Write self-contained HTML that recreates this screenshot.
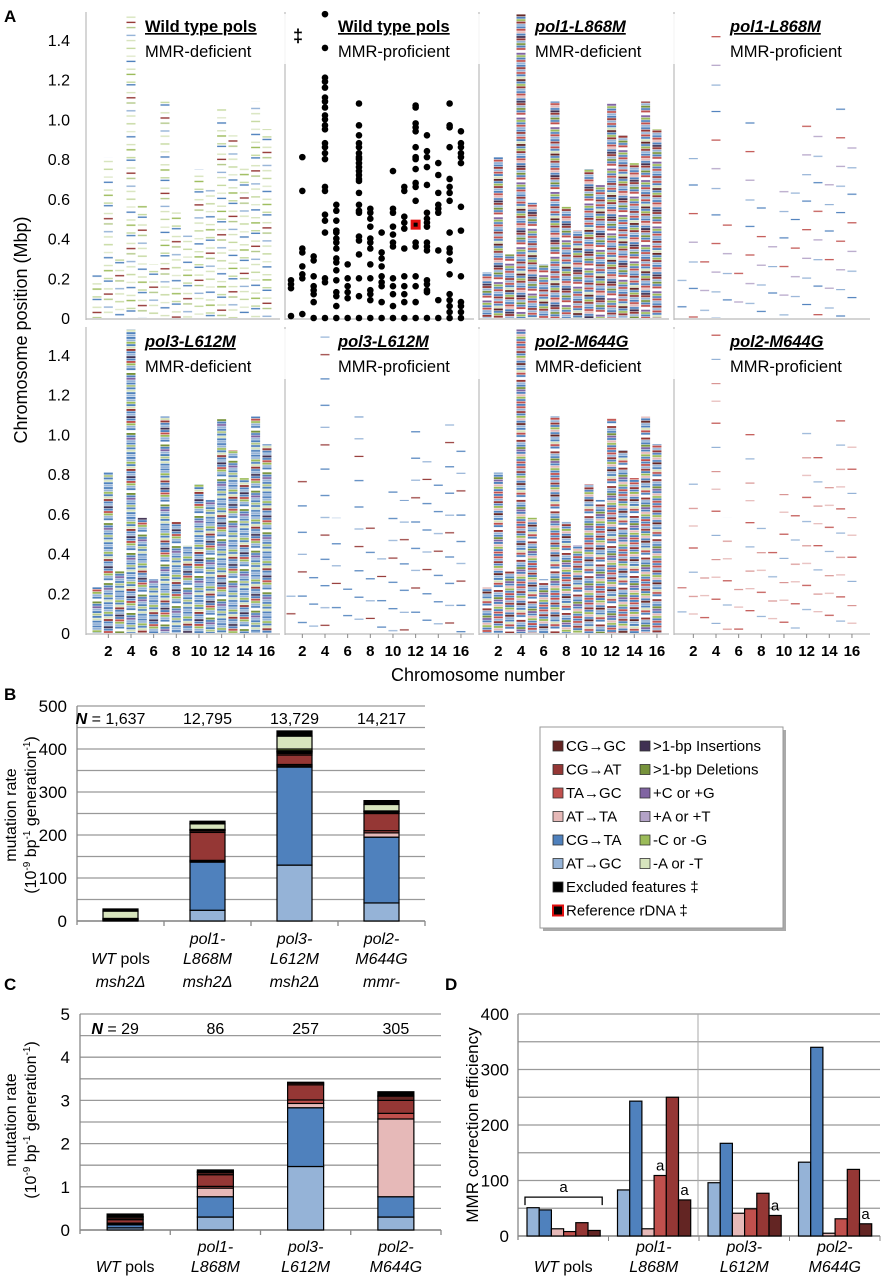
<!DOCTYPE html>
<html><head><meta charset="utf-8">
<style>
html,body{margin:0;padding:0;background:#fff;}
svg{display:block;font-family:"Liberation Sans",sans-serif;}
</style></head>
<body>
<svg id="fig" width="881" height="1280" viewBox="0 0 881 1280" xmlns="http://www.w3.org/2000/svg">
<defs id="defs"></defs>
<g id="panelA"></g>
<g id="panelB"></g>
<g id="panelC"></g>
<g id="panelD"></g>
<g id="legend"></g>
</svg>
<script>
// ---------- data ----------
const chromosomes = [1,2,3,4,5,6,7,8,9,10,11,12,13,14,15,16];
const chrLen = [0.23,0.81,0.32,1.53,0.58,0.27,1.09,0.56,0.44,0.75,0.67,1.08,0.92,0.78,1.09,0.95];
const wtProfDots = [
 [0.19,0.17,0.15,0.01],
 [0.81,0.64,0.35,0.33,0.26,0.22,0.20,0.02],
 [0.31,0.29,0.21,0.16,0.14,0.12,0.08,0.0],
 [1.53,1.36,1.21,1.19,1.16,1.11,1.09,1.06,1.02,1.0,0.97,0.95,0.88,0.86,0.83,0.80,0.66,0.64,0.52,0.49,0.43,0.20,0.18,0.0],
 [0.57,0.54,0.49,0.44,0.43,0.40,0.38,0.35,0.30,0.28,0.24,0.19,0.13,0.11,0.06,0.0],
 [0.27,0.20,0.16,0.13,0.10,0.0],
 [1.08,0.97,0.92,0.88,0.86,0.83,0.81,0.80,0.78,0.76,0.74,0.72,0.70,0.69,0.63,0.57,0.54,0.53,0.41,0.39,0.32,0.20,0.11,0.0],
 [0.55,0.53,0.50,0.46,0.40,0.38,0.35,0.27,0.20,0.14,0.12,0.09,0.0],
 [0.43,0.33,0.30,0.26,0.21,0.18,0.16,0.08,0.0],
 [0.74,0.55,0.53,0.46,0.42,0.38,0.36,0.20,0.16,0.12,0.06,0.0],
 [0.66,0.64,0.51,0.48,0.45,0.35,0.21,0.16,0.12,0.08,0.0],
 [1.07,1.06,0.98,0.96,0.94,0.86,0.81,0.80,0.75,0.68,0.66,0.59,0.38,0.36,0.21,0.16,0.08,0.0],
 [0.92,0.84,0.81,0.76,0.67,0.53,0.50,0.48,0.46,0.38,0.36,0.34,0.19,0.17,0.14,0.13,0.0],
 [0.78,0.72,0.63,0.57,0.55,0.53,0.34,0.09,0.0],
 [1.08,0.97,0.96,0.86,0.70,0.66,0.63,0.59,0.43,0.35,0.33,0.29,0.22,0.12,0.09,0.06,0.03,0.0],
 [0.94,0.88,0.86,0.83,0.81,0.78,0.56,0.44,0.21,0.08,0.06,0.03,0.0]
];
const rdnaChrom = 12;
const rdnaPos = 0.47;

const seriesNames = ["AT→GC","CG→TA","AT→TA","TA→GC","CG→AT","CG→GC",">1-bp Insertions",">1-bp Deletions","+C or +G","+A or +T","-C or -G","-A or -T","Excluded features ‡"];
const seriesColors = ["#95b3d7","#4f81bd","#e6b9b8","#c0504d","#953735","#632523","#403152","#77933c","#8064a2","#b3a2c7","#9bbb59","#d7e4bd","#000000"];

const bCategories = ["WT pols|msh2Δ","pol1-|L868M|msh2Δ","pol3-|L612M|msh2Δ","pol2-|M644G|mmr-"];
const bN = ["1,637","12,795","13,729","14,217"];
const bATGC=[1,25,130,42], bCGTA=[2,112,228,153], bATTA=[0,2,3,10], bTAGC=[0,2,3,5], bCGAT=[1,65,22,40], bCGGC=[0,4,4,3];
const bIns=[0,0,2,0], bDel=[1,1,2,1], bPlusCG=[0,0,1,0], bPlusAT=[0,1,1,1], bMinusCG=[1,1,4,1], bMinusAT=[17,13,30,15], bExcl=[5,6,12,9];
const bTicks = [0,100,200,300,400,500];

const cCategories = ["WT pols","pol1-|L868M","pol3-|L612M","pol2-|M644G"];
const cN = ["29","86","257","305"];
const cATGC=[0.05,0.30,1.47,0.30], cCGTA=[0.07,0.47,1.36,0.47], cATTA=[0.02,0.20,0.10,1.80], cTAGC=[0.02,0.04,0.08,0.13], cCGAT=[0.08,0.27,0.35,0.30], cCGGC=[0.04,0.05,0.04,0.10];
const cIns=[0,0,0,0], cDel=[0,0.02,0,0], cPlusCG=[0,0,0,0], cPlusAT=[0,0,0,0], cMinusCG=[0,0,0,0], cMinusAT=[0.03,0,0,0], cExcl=[0.06,0.04,0.02,0.10];
const cTicks = [0,1,2,3,4,5];

const dCategories = ["WT pols","pol1-|L868M","pol3-|L612M","pol2-|M644G"];
const dATGC=[51,83,96,133], dCGTA=[47,243,167,340], dATTA=[13,13,41,5], dTAGC=[8,109,49,31], dCGAT=[24,250,77,120], dCGGC=[10,65,37,22];
const dTicks = [0,100,200,300,400];

// ---------- helpers ----------
const NS="http://www.w3.org/2000/svg";
function mk(tag, parent, attrs){const e=document.createElementNS(NS,tag);for(const k in attrs)e.setAttribute(k,attrs[k]);parent.appendChild(e);return e;}
function txt(parent,x,y,s,size,opts){opts=opts||{};const t=mk('text',parent,{x:x,y:y,'font-size':size,'text-anchor':opts.anchor||'start',fill:opts.fill||'#000'});
 if(opts.bold)t.setAttribute('font-weight','bold');if(opts.italic)t.setAttribute('font-style','italic');if(opts.under)t.setAttribute('text-decoration','underline');
 if(opts.rot)t.setAttribute('transform','rotate(-90 '+x+' '+y+')');t.textContent=s;return t;}
const defs=document.getElementById('defs');
const A=document.getElementById('panelA');

// patterns (texture only)
function pattern(id, colors, h, gap){
 const p=mk('pattern',defs,{id:id,patternUnits:'userSpaceOnUse',width:12,height:colors.length*h});
 colors.forEach((c,i)=>{ if(c!=='none') mk('rect',p,{x:0,y:i*h,width:12,height:h-gap,fill:c}); });
}
pattern('patWT',['#d7e4bd','none','#9bbb59','none','none','#c5d9a0','#4f81bd','none','none','#d7e4bd','none','#953735','none','#b3c98a','none','none','#95b3d7','none','#d7e4bd','none','none','#c5d9a0','none','none','#e0e9cc','none','#4f81bd','none','none'],2.6,1.2);
pattern('patP1',['#4f81bd','#953735','#95b3d7','#c0504d','#4f81bd','#d7e4bd','#632523','#4f81bd','#9bbb59','#953735','#95b3d7','#4f81bd','#c0504d','#e6b9b8','#4f81bd','#403152','#953735','#95b3d7','#77933c','#4f81bd','#c0504d','#fff','#8064a2','#9bbb59','#4f81bd','#c0504d','#95b3d7'],2.4,0.5);
pattern('patP3',['#4f81bd','#95b3d7','#9bbb59','#4f81bd','#d7e4bd','#953735','#4f81bd','#95b3d7','#403152','#4f81bd','#c0504d','#9bbb59','#95b3d7','#4f81bd','#fff','#77933c','#4f81bd','#8064a2','#95b3d7','#4f81bd','#b3c98a','#4f81bd','#d7e4bd','#4f81bd','#95b3d7'],2.4,0.5);
pattern('patP2',['#4f81bd','#c0504d','#95b3d7','#953735','#4f81bd','#9bbb59','#e6b9b8','#4f81bd','#632523','#95b3d7','#4f81bd','#d7e4bd','#c0504d','#4f81bd','#fff','#953735','#95b3d7','#4f81bd','#77933c','#8064a2','#4f81bd','#e6b9b8','#9bbb59','#4f81bd','#c0504d'],2.4,0.5);
pattern('patS1',['none','none','none','none','none','#95b3d7','none','none','none','none','none','none','none','none','none','none','none','#4f81bd','none','none','none','none','none','none','none','none','none','none','none','none','#c0504d','none','none','none','none','none','none','none','none','none','none','none','none','#b3a2c7','none','none','none'],2.2,1.0);
pattern('patS2',['none','none','none','#4f81bd','none','none','none','none','none','none','none','none','none','#95b3d7','none','none','none','none','none','none','none','#953735','none','none','none','none','none','none','none','none','none','none','#4f81bd','none','none','none','none','none','none','none','none'],2.2,1.0);
pattern('patS3',['none','none','none','#e6b9b8','none','none','none','none','none','none','none','none','none','#c0504d','none','none','none','none','none','none','none','none','none','none','#95b3d7','none','none','none','none','none','none','none','none','none','none','#d99694','none','none','none','none'],2.2,1.0);

// ---------- panel A ----------
const pxPerMbp=198.6, chrStep=11.33;
const panels=[
 {row:0,col:0,x0:97,title:'Wild type pols',it:false,sub:'MMR-deficient',pat:'patWT',tx:145},
 {row:0,col:1,x0:291,title:'Wild type pols',it:false,sub:'MMR-proficient',pat:null,tx:338},
 {row:0,col:2,x0:487,title:'pol1-L868M',it:true,sub:'MMR-deficient',pat:'patP1',tx:535},
 {row:0,col:3,x0:682,title:'pol1-L868M',it:true,sub:'MMR-proficient',pat:'patS1',tx:730},
 {row:1,col:0,x0:97,title:'pol3-L612M',it:true,sub:'MMR-deficient',pat:'patP3',tx:145},
 {row:1,col:1,x0:291,title:'pol3-L612M',it:true,sub:'MMR-proficient',pat:'patS2',tx:338},
 {row:1,col:2,x0:487,title:'pol2-M644G',it:true,sub:'MMR-deficient',pat:'patP2',tx:535},
 {row:1,col:3,x0:682,title:'pol2-M644G',it:true,sub:'MMR-proficient',pat:'patS3',tx:730}
];
const frameLeft=[86,285,479,674], frameRight=870;
const rowZero=[318,633], rowTop=[12,327];
txt(A,4,22,'A',17,{bold:true});
[0,1].forEach(r=>{
 frameLeft.forEach((fx,i)=>{
  const l=mk('line',A,{x1:fx,y1:rowTop[r],x2:fx,y2:rowZero[r]+2,stroke:'#bbb','stroke-width':1.2});
  
  
  const rx=(i<3?frameLeft[i+1]-5:frameRight);
  const b=mk('line',A,{x1:fx,y1:rowZero[r]+1,x2:rx,y2:rowZero[r]+1,stroke:'#bbb','stroke-width':1.2});
  
  
 });
 [0,0.2,0.4,0.6,0.8,1.0,1.2,1.4].forEach(v=>{
  const t=txt(A,70,rowZero[r]-v*pxPerMbp+6,v===0?'0':v.toFixed(1),16,{anchor:'end'});
  
  
 });
});
const yTitle=txt(A,27,330,'Chromosome position (Mbp)',18,{anchor:'middle',rot:true});


panels.forEach(p=>{
 const g=mk('g',A,{});
 
 
 const z=rowZero[p.row];
 chromosomes.forEach((c,i)=>{
  const x=p.x0+(c-1)*chrStep;
  const h=chrLen[i]*pxPerMbp;
  if(p.pat){
   const off=((c*37+p.col*13+p.row*7)%29)*2.3;
   const sg=mk('g',g,{transform:'translate(0,'+(-off)+')'});
   const r=mk('rect',sg,{x:x-4.5,y:z-h+off,width:9,height:h,fill:'url(#'+p.pat+')'});
   
   
  } else {
   wtProfDots[i].forEach(v=>{
    const d=mk('circle',g,{cx:x,cy:z-v*pxPerMbp,r:3.3,fill:'#000'});
    
    
   });
   if(c===rdnaChrom){
    const q=mk('rect',g,{x:x-5,y:z-rdnaPos*pxPerMbp-5,width:10,height:10,fill:'#e01010'});
    
    
    const q2=mk('rect',g,{x:x-2,y:z-rdnaPos*pxPerMbp-2,width:4,height:4,fill:'#000'});
    
    
   }
  }
 });
 mk('rect',g,{x:p.tx-3,y:rowTop[p.row]+2,width:150,height:50,fill:'#fff','fill-opacity':0.85});
 const t=txt(g,p.tx,rowTop[p.row]+20,p.title,16.5,{bold:true,italic:p.it,under:true});
 
 
 const s=txt(g,p.tx,rowTop[p.row]+45,p.sub,16.5,{});
 
 
 if(p.row===0&&p.col===1){const dg=txt(g,293,rowTop[0]+30,'‡',18,{bold:true});}
 if(p.row===1){
  chromosomes.forEach(c=>{ if(c%2===0){
   const x=p.x0+(c-1)*chrStep;
   const tk=mk('line',g,{x1:x,y1:634,x2:x,y2:638,stroke:'#888'});
   
   
   const l=txt(g,x,656,String(c),15,{anchor:'middle',bold:true});
   
   
  }});
 }
});
const xTitle=txt(A,478,681,'Chromosome number',18,{anchor:'middle'});



// ---------- stacked bar helper ----------
function stacked(G, o, series, cats, nLabels, ticks, grid){
 const y=v=>o.y0-(v/o.max)*(o.y0-o.yTop);
 for(let v=0; v<=o.max+1e-9; v+=grid){
  const l=mk('line',G,{x1:o.x0,y1:y(v),x2:o.x1,y2:y(v),stroke:'#999','stroke-width':1.3});
  
  
 }
 ticks.forEach(v=>{
  const t=txt(G,o.x0-10,y(v)+6,String(v),17,{anchor:'end'});
  
  
 });
 mk('line',G,{x1:o.x0,y1:o.yTop,x2:o.x0,y2:o.y0+4,stroke:'#888','stroke-width':1.3});
 mk('line',G,{x1:o.x0,y1:o.y0,x2:o.x1,y2:o.y0,stroke:'#888','stroke-width':1.5});
 const cw=(o.x1-o.x0)/cats.length;
 cats.forEach((c,i)=>{
  const tk=mk('line',G,{x1:o.x0+cw*(i+1),y1:o.y0,x2:o.x0+cw*(i+1),y2:o.y0+5,stroke:'#888','stroke-width':1.3});
  
  
  const cx=o.x0+cw*(i+0.5);
  let acc=0;
  series.forEach((s,k)=>{
   const v=s[i]; if(v<=0) return;
   const r=mk('rect',G,{x:cx-o.bw/2,y:y(acc+v),width:o.bw,height:y(acc)-y(acc+v),fill:seriesColors[k],stroke:'#000','stroke-width':1.2});
   
   
   acc+=v;
  });
  const nl=txt(G,cx+(i===0?-10:0),o.nY,nLabels[i],16,{anchor:'middle'});
  
  
  if(i===0){nl.textContent='';const a=mk('tspan',nl,{'font-weight':'bold','font-style':'italic'});a.textContent='N';const b=mk('tspan',nl,{});b.textContent=' = '+nLabels[i];}
  const parts=c.split('|');
  const ys=o.labY[parts.length]||[];
  parts.forEach((p,j)=>{
   const t=txt(G,cx,ys[j],'',16,{anchor:'middle'});
   
   
   if(p==='WT pols'){const a=mk('tspan',t,{'font-style':'italic'});a.textContent='WT';const b=mk('tspan',t,{});b.textContent=' pols';}
   else {t.setAttribute('font-style','italic');t.textContent=p;}
  });
 });
}
const unitsHTML='(10<tspan dy="-6" font-size="10">-9</tspan><tspan dy="6"> bp</tspan><tspan dy="-6" font-size="10">-1</tspan><tspan dy="6"> generation</tspan><tspan dy="-6" font-size="10">-1</tspan><tspan dy="6">)</tspan>';
// ---------- panel B ----------
const B=document.getElementById('panelB');
txt(B,4,700,'B',17,{bold:true});
stacked(B,{x0:77,x1:425,y0:921,yTop:706,max:500,bw:35,nY:724,labY:{2:[964,987],3:[944,964,987]}},
 [bATGC,bCGTA,bATTA,bTAGC,bCGAT,bCGGC,bIns,bDel,bPlusCG,bPlusAT,bMinusCG,bMinusAT,bExcl],bCategories,bN,bTicks,50);
let t1=txt(B,16,815,'mutation rate',16,{anchor:'middle',rot:true});
let t2=txt(B,36,815,'',16,{anchor:'middle',rot:true});
t2.innerHTML=unitsHTML;
// ---------- panel C ----------
const C=document.getElementById('panelC');
txt(C,4,990,'C',17,{bold:true});
stacked(C,{x0:80,x1:441,y0:1230,yTop:1014,max:5,bw:36,nY:1034,labY:{1:[1272],2:[1252,1272]}},
 [cATGC,cCGTA,cATTA,cTAGC,cCGAT,cCGGC,cIns,cDel,cPlusCG,cPlusAT,cMinusCG,cMinusAT,cExcl],cCategories,cN,cTicks,0.5);
let t3=txt(C,16,1120,'mutation rate',16,{anchor:'middle',rot:true});
let t4=txt(C,36,1120,'',16,{anchor:'middle',rot:true});
t4.innerHTML=unitsHTML;
// ---------- panel D ----------
const D=document.getElementById('panelD');
txt(D,445,990,'D',17,{bold:true});
(function(){
 const x0=518,x1=880,y0=1236,yTop=1014,max=400;
 const y=v=>y0-(v/max)*(y0-yTop);
 for(let v=0;v<=max;v+=50){const l=mk('line',D,{x1:x0,y1:y(v),x2:x1,y2:y(v),stroke:'#999','stroke-width':1.3});}
 dTicks.forEach(v=>{const t=txt(D,x0-9,y(v)+6,String(v),17,{anchor:'end'});});
 mk('line',D,{x1:x0,y1:yTop,x2:x0,y2:y0+4,stroke:'#888','stroke-width':1.3});
 mk('line',D,{x1:698,y1:yTop,x2:698,y2:y0,stroke:'#aaa','stroke-width':1});
 mk('line',D,{x1:x0,y1:y0,x2:x1,y2:y0,stroke:'#888','stroke-width':1.5});
 const series=[dATGC,dCGTA,dATTA,dTAGC,dCGAT,dCGGC];
 const cw=(x1-x0)/dCategories.length, bw=12.2;
 dCategories.forEach((c,i)=>{
  const tk=mk('line',D,{x1:x0+cw*(i+1),y1:y0,x2:x0+cw*(i+1),y2:y0+5,stroke:'#888'});
  
  
  const gx=x0+cw*i+9;
  series.forEach((s,k)=>{
   const r=mk('rect',D,{x:gx+k*bw,y:y(s[i]),width:bw,height:y0-y(s[i]),fill:seriesColors[k],stroke:'#000','stroke-width':1.2});
   
   
  });
  const parts=c.split('|'), cx=x0+cw*(i+0.5);
  parts.forEach((p,j)=>{
   const ly=parts.length===1?1272:[1252,1272][j];
   const t=txt(D,cx,ly,'',16,{anchor:'middle'});
   
   
   if(p==='WT pols'){const a=mk('tspan',t,{'font-style':'italic'});a.textContent='WT';const b=mk('tspan',t,{});b.textContent=' pols';}
   else {t.setAttribute('font-style','italic');t.textContent=p;}
  });
  const ann=(k)=>{const t=txt(D,gx+k*bw+bw/2,y(series[k][i])-5,'a',15,{anchor:'middle'});};
  if(i===0){
   const by=y(70);
   mk('path',D,{d:'M'+(gx-2)+' '+(by+8)+' V'+by+' H'+(gx+6*bw+2)+' V'+(by+8),fill:'none',stroke:'#000','stroke-width':1.3});
   const t=txt(D,gx+3*bw,by-5,'a',15,{anchor:'middle'});
  } else {
   if(i===1) ann(3);
   ann(5);
  }
 });
 const tt=txt(D,478,1125,'MMR correction efficiency',17,{anchor:'middle',rot:true});
 
 
})();
// ---------- legend ----------
const L=document.getElementById('legend');
mk('rect',L,{x:543,y:730,width:243,height:201,fill:'#aaa'});
const box=mk('rect',L,{x:540,y:727,width:243,height:201,fill:'#fff',stroke:'#999','stroke-width':1});


const legLeft=[[5,'CG→GC'],[4,'CG→AT'],[3,'TA→GC'],[2,'AT→TA'],[1,'CG→TA'],[0,'AT→GC']];
const legRight=[[6,'>1-bp Insertions'],[7,'>1-bp Deletions'],[8,'+C or +G'],[9,'+A or +T'],[10,'-C or -G'],[11,'-A or -T']];
function legEntry(x,yy,color,label,red){
 const sw=mk('rect',L,{x:x,y:yy-10,width:10,height:10,fill:color,stroke:red?'#e01010':'#333','stroke-width':red?2:0.8});
 
 
 const t=txt(L,x+13,yy,label,15,{});
 
 
}
legLeft.forEach((e,i)=>legEntry(553,751+i*23.5,seriesColors[e[0]],e[1]));
legRight.forEach((e,i)=>legEntry(640,751+i*23.5,seriesColors[e[0]],e[1]));
legEntry(553,892,'#000','Excluded features ‡');
legEntry(553,915.5,'#000','Reference rDNA ‡',true);
</script>
</body></html>
